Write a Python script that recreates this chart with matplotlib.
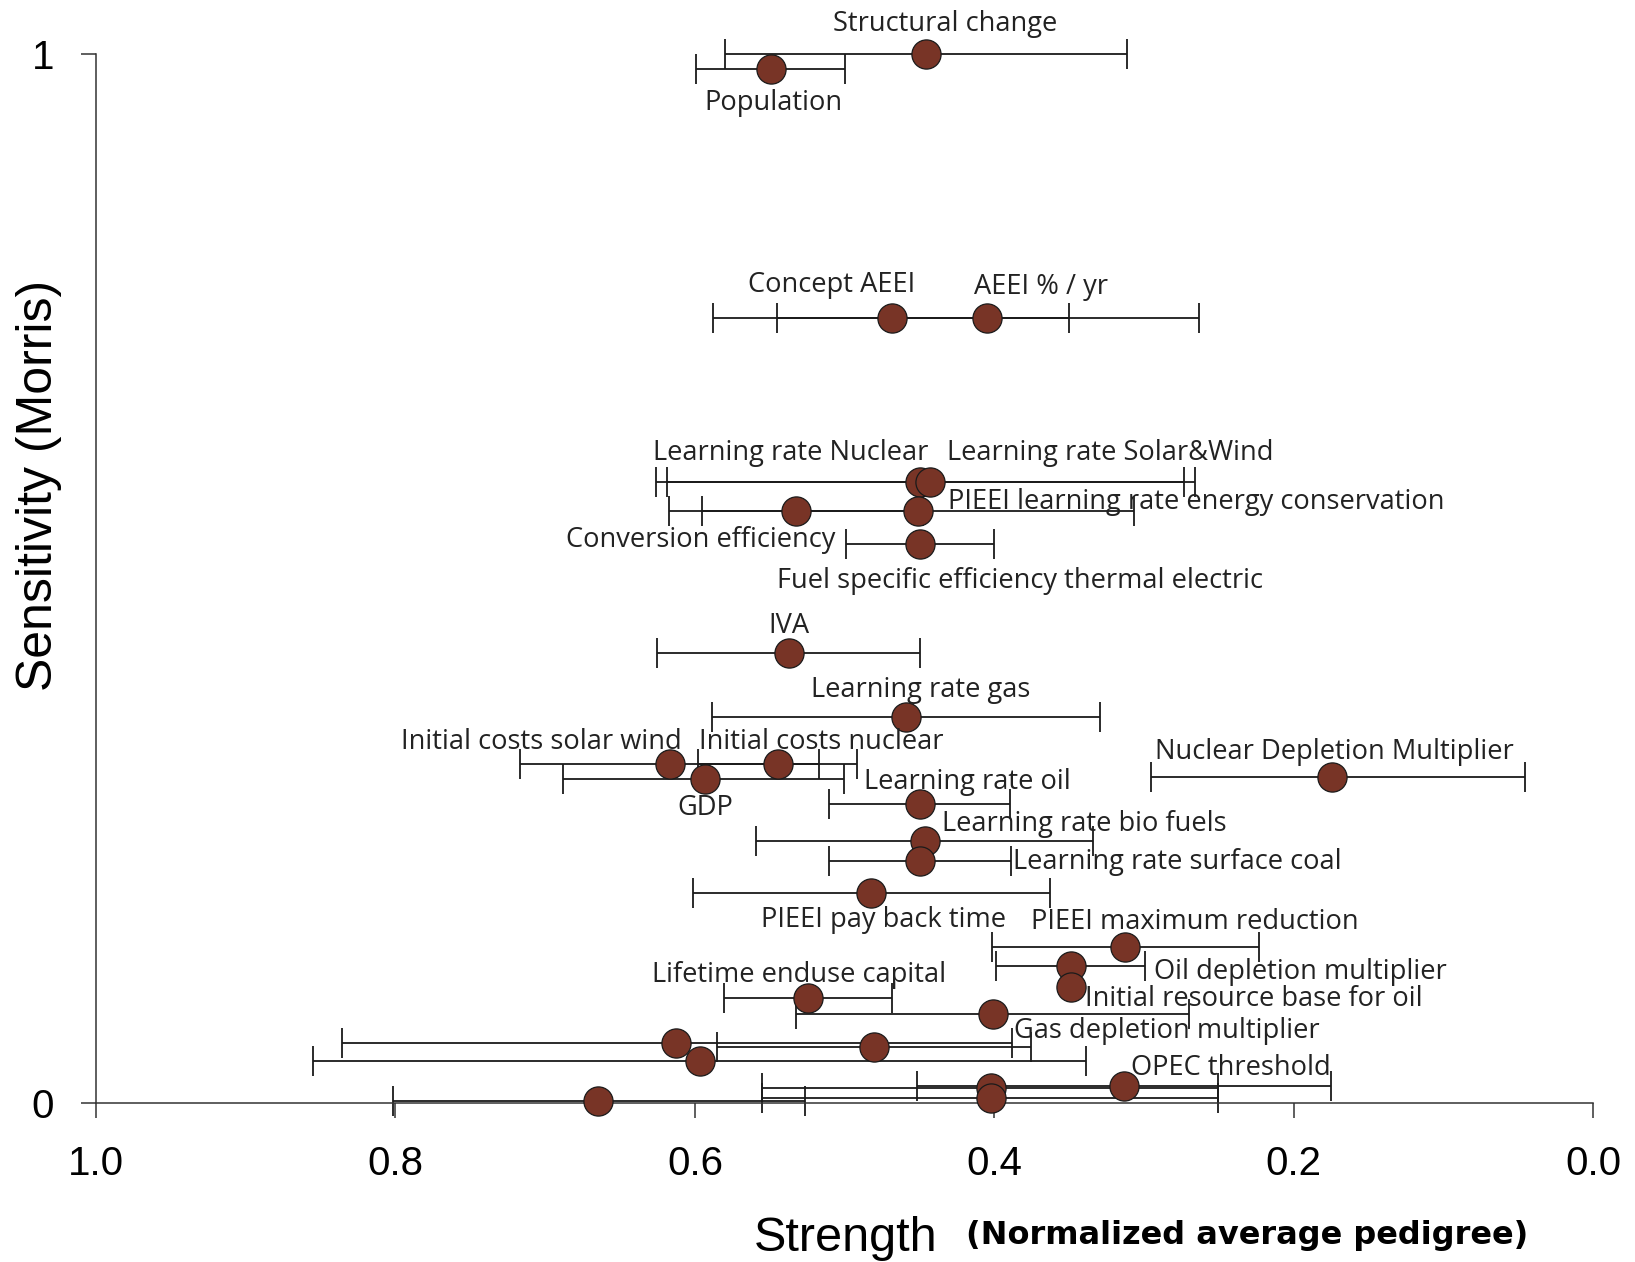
import numpy as np
import matplotlib
matplotlib.use("Agg")
import matplotlib.pyplot as plt

# strength (x), sensitivity (y) and error bar extents of each parameter
strength = [0.4455, 0.5492, 0.4687, 0.4052, 0.4495, 0.4427, 0.5325, 0.4508,
            0.4499, 0.5372, 0.4592, 0.6167, 0.5442, 0.5931, 0.1747, 0.4494,
            0.4460, 0.4498, 0.4826, 0.3125, 0.3490, 0.3490, 0.5248, 0.4010,
            0.6124, 0.4802, 0.5969, 0.3134, 0.4024, 0.4024, 0.6644]
sensitivity = [1.000, 0.986, 0.749, 0.749, 0.5924, 0.5924, 0.5648, 0.5648,
               0.5327, 0.4294, 0.3678, 0.3231, 0.3231, 0.3091, 0.3112, 0.2852,
               0.2503, 0.2312, 0.2001, 0.1492, 0.1308, 0.1104, 0.100, 0.085,
               0.0577, 0.0533, 0.0406, 0.0164, 0.0142, 0.005, 0.0024]
strength_low = [0.3114, 0.5000, 0.3500, 0.2636, 0.2731, 0.2661, 0.4476, 0.3065,
                0.4004, 0.4494, 0.3295, 0.5171, 0.4916, 0.5005, 0.0454, 0.3893,
                0.3343, 0.3890, 0.3631, 0.2235, 0.2994, np.nan, 0.4685, 0.2699,
                0.3884, 0.3757, 0.3387, 0.1755, 0.2509, 0.2509, 0.5266]
strength_high = [0.5797, 0.5996, 0.5879, 0.5453, 0.6258, 0.6189, 0.6173, 0.5952,
                 0.4993, 0.6251, 0.5889, 0.7166, 0.5978, 0.6880, 0.2953, 0.5104,
                 0.5592, 0.5103, 0.6016, 0.4015, 0.3990, np.nan, 0.5805, 0.5327,
                 0.8359, 0.5851, 0.8550, 0.4518, 0.5550, 0.5550, 0.8017]

# labels and where they are written (strength, sensitivity)
labels = ["Structural change", "Population", "Concept AEEI", "AEEI % / yr",
          "Learning rate Nuclear", "Learning rate Solar&Wind",
          "PIEEI learning rate energy conservation", "Conversion efficiency",
          "Fuel specific efficiency thermal electric", "IVA", "Learning rate gas",
          "Initial costs solar wind", "Initial costs nuclear", "GDP",
          "Learning rate oil", "Nuclear Depletion Multiplier",
          "Learning rate bio fuels", "Learning rate surface coal",
          "PIEEI pay back time", "PIEEI maximum reduction",
          "Lifetime enduse capital", "Oil depletion multiplier",
          "Initial resource base for oil", "Gas depletion multiplier",
          "OPEC threshold"]
label_x = [0.4331, 0.5474, 0.5084, 0.3691, 0.5362, 0.3224, 0.2653, 0.5961,
           0.3830, 0.5369, 0.4492, 0.7026, 0.5153, 0.5933, 0.4178, 0.1727,
           0.3398, 0.2779, 0.4742, 0.2660, 0.5306, 0.1957, 0.2270, 0.2848,
           0.2423]
label_y = [1.0290, 0.9533, 0.7803, 0.7783, 0.6203, 0.6203, 0.5735, 0.5368,
           0.4980, 0.4553, 0.3936, 0.3439, 0.3439, 0.2813, 0.3062, 0.3350,
           0.2664, 0.2296, 0.1749, 0.1730, 0.1223, 0.1252, 0.0994, 0.0686,
           0.0338]

x_ticks = [1.0, 0.8, 0.6, 0.4, 0.2, 0.0]

s = np.array(strength)
m = np.array(sensitivity)
lo = np.array(strength_low)
hi = np.array(strength_high)
has_bar = ~np.isnan(lo)

fig = plt.figure(figsize=(16.35, 12.62), dpi=100)
ax = fig.add_axes([0.0587, 0.1258, 0.9158, 0.8312])

ax.errorbar(s[has_bar], m[has_bar],
            xerr=[s[has_bar] - lo[has_bar], hi[has_bar] - s[has_bar]],
            fmt='none', ecolor='#1a1a1a', elinewidth=1.3, capsize=11,
            capthick=1.3, clip_on=False, zorder=2)
ax.plot(s, m, 'o', ms=21, mfc='#783426', mec='#1a1a1a', mew=0.9,
        clip_on=False, zorder=3)

for txt, lx, ly in zip(labels, label_x, label_y):
    ax.text(lx, ly, txt, ha='center', va='center', fontsize=19.6,
            family='Open Sans', color='#222222', clip_on=False, zorder=4)

ax.set_xlim(1.0, 0.0)
ax.set_ylim(0, 1)
ax.set_xticks(x_ticks)
ax.set_xticklabels([f"{t:.1f}" for t in x_ticks])
ax.set_yticks([0, 1])
ax.set_yticklabels(["0", "1"])
ax.tick_params(axis='both', length=11, width=1.1, pad=19, labelsize=29,
               color='#333333')
for lab in ax.get_xticklabels() + ax.get_yticklabels():
    lab.set_family('Liberation Sans')
for side in ['top', 'right']:
    ax.spines[side].set_visible(False)
for side in ['left', 'bottom']:
    ax.spines[side].set_linewidth(1.1)
    ax.spines[side].set_color('#333333')

fig.text(0.024, 0.6157, "Sensitivity (Morris)", rotation=90, ha='center',
         va='center', fontsize=36, family='Liberation Sans')
fig.text(0.5172, 0.019, "Strength", ha='center', va='center', fontsize=35,
         family='Liberation Sans')
fig.text(0.7627, 0.021, "(Normalized average pedigree)", ha='center',
         va='center', fontsize=23, weight='bold', family='DejaVu Sans')

fig.savefig("out.png", dpi=100)
